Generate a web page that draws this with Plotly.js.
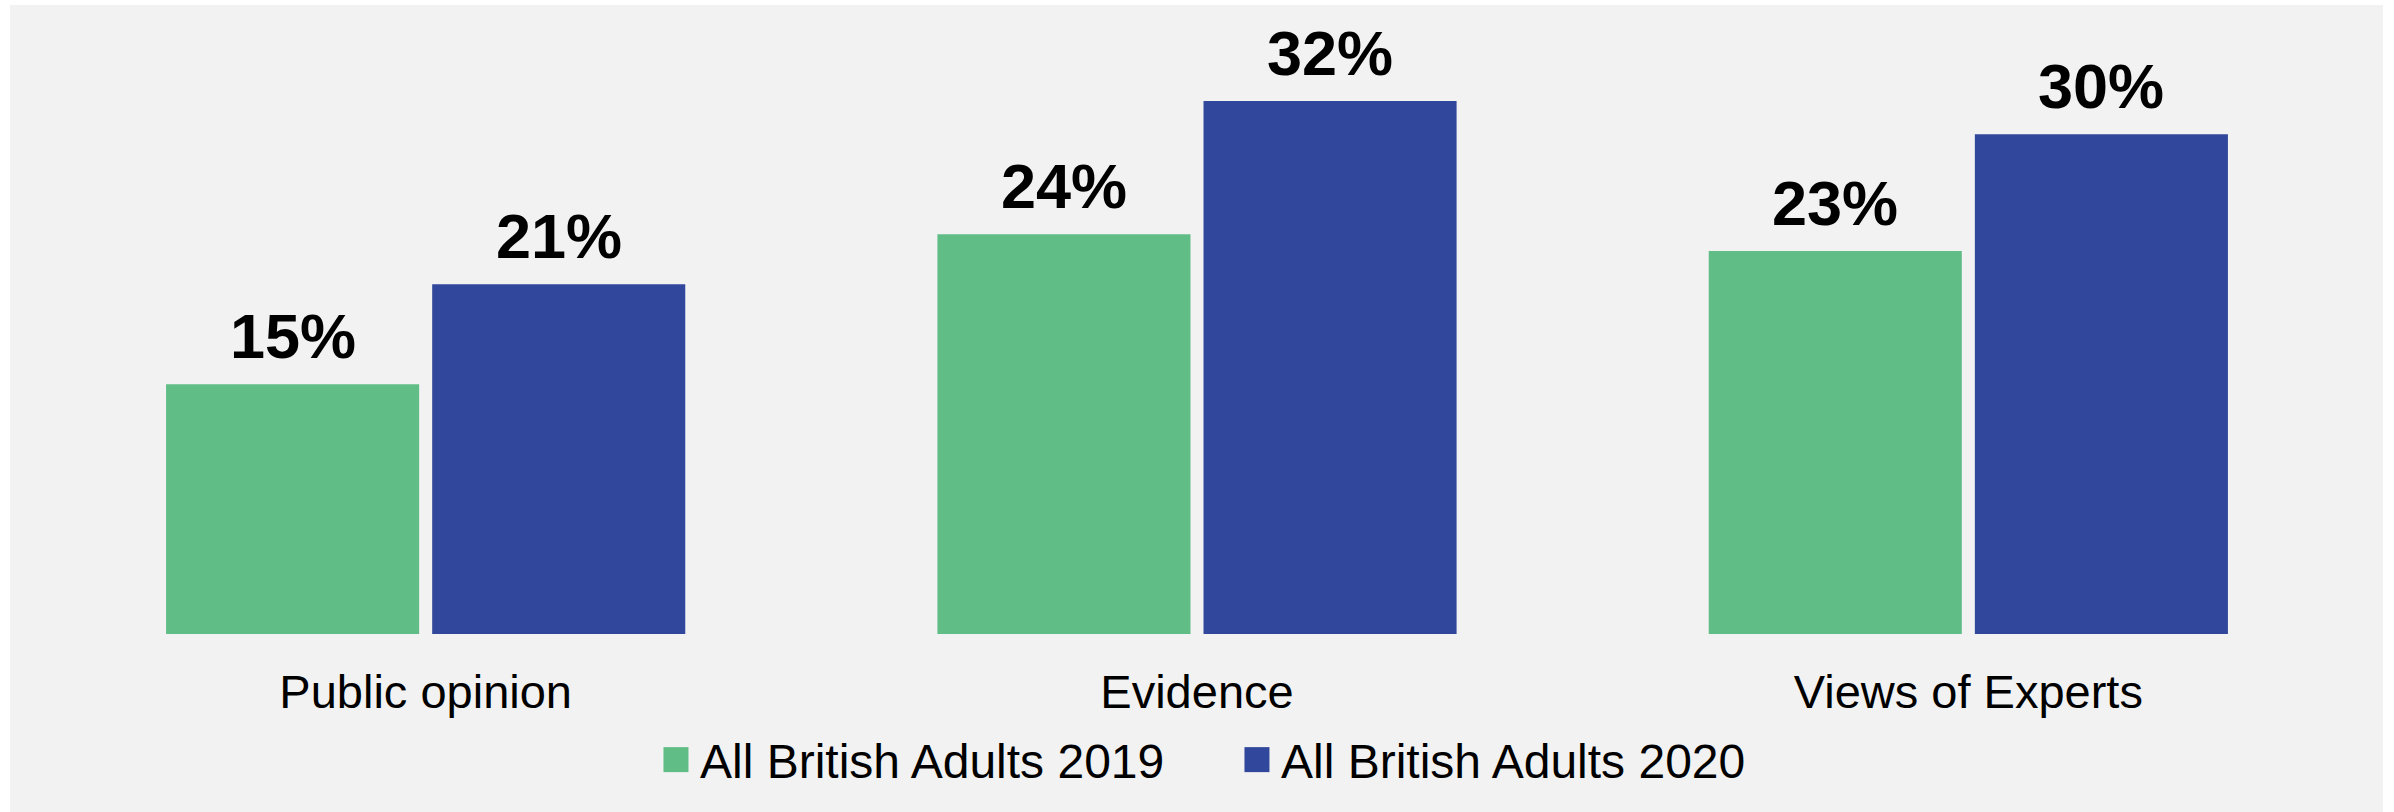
<!DOCTYPE html>
<html>
<head>
<meta charset="utf-8">
<script src="https://cdn.plot.ly/plotly-3.0.1.min.js"></script>
<style>
  html, body { margin: 0; padding: 0; background: #ffffff; }
  #chart { position: absolute; left: 10px; top: 5px; width: 2373px; height: 807px; }
</style>
</head>
<body>
<div id="chart"></div>
<script>
const categories = ["Public opinion", "Evidence", "Views of Experts"];
const seriesNames = ["All British Adults 2019", "All British Adults 2020"];
const values2019 = [15, 24, 23];
const values2020 = [21, 32, 30];
const seriesColors = ["#60BD86", "#30479B"];

const FONT = '"Liberation Sans", Arial, sans-serif';

const traces = [
  {
    type: "bar", name: seriesNames[0], x: categories, y: values2019,
    marker: { color: seriesColors[0], line: { width: 0 } },
    hoverinfo: "skip"
  },
  {
    type: "bar", name: seriesNames[1], x: categories, y: values2020,
    marker: { color: seriesColors[1], line: { width: 0 } },
    hoverinfo: "skip"
  }
];

const bargap = 0.31;
const plotW = 2373 - 30 - 29;
const slot = (1 - bargap) * (plotW / categories.length) / 2;

const annotations = [];
[values2019, values2020].forEach((vals, s) => {
  vals.forEach((v, i) => {
    annotations.push({
      x: categories[i], y: v, xref: "x", yref: "y",
      text: "<b>" + v + "%</b>",
      showarrow: false, xanchor: "center", yanchor: "bottom",
      xshift: (s === 0 ? -1 : 1) * slot / 2, yshift: 11,
      font: { family: FONT, size: 63, color: "#000000" }
    });
  });
});

const layout = {
  width: 2373, height: 807,
  margin: { l: 30, r: 29, t: 46, b: 178, pad: 0 },
  paper_bgcolor: "#F2F2F2",
  plot_bgcolor: "#F2F2F2",
  barmode: "group",
  bargap: bargap,
  bargroupgap: 0.049,
  font: { family: FONT, color: "#000000" },
  xaxis: {
    type: "category",
    showgrid: false, zeroline: false, showline: false, ticks: "",
    tickfont: { family: FONT, size: 47, color: "#000000" },
    ticklabelstandoff: 26
  },
  yaxis: { visible: false, range: [0, 35], showgrid: false, zeroline: false },
  showlegend: true,
  legend: {
    orientation: "h", xanchor: "center", x: 0.519,
    yanchor: "middle", y: -0.216,
    font: { family: FONT, size: 48, color: "#000000" },
    bgcolor: "rgba(0,0,0,0)", entrywidth: 536, entrywidthmode: "pixels"
  },
  annotations: annotations
};

Plotly.newPlot("chart", traces, layout, { staticPlot: true, displayModeBar: false }).then(() => {
  document.querySelectorAll("#chart .legendpoints path").forEach(p => {
    p.setAttribute("d", "M8.5,12.5H-16.5V-12.5H8.5Z");
  });
});
</script>
</body>
</html>
